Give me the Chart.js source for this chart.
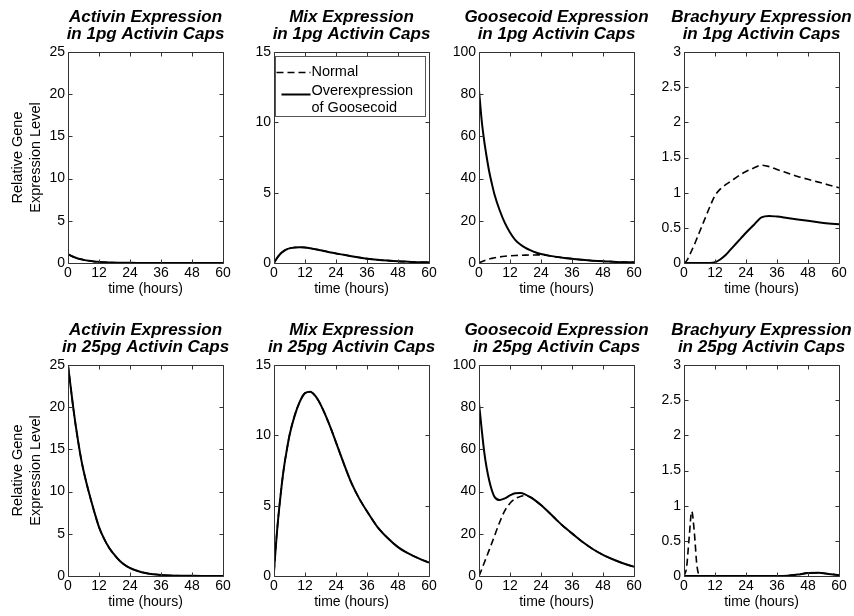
<!DOCTYPE html>
<html>
<head>
<meta charset="utf-8">
<script src="https://cdn.jsdelivr.net/npm/chart.js@4.4.0/dist/chart.umd.min.js"></script>
<style>
  html, body { margin: 0; padding: 0; background: #fff; }
  #page { position: relative; width: 854px; height: 616px; overflow: hidden; background: #fff; }
  #page canvas { position: absolute; }
</style>
</head>
<body>
<div id="page"></div>
<script>
// time points (hours) shared by every series
const hours = [0, 1, 2, 3, 4, 5, 6, 8, 10, 12, 14, 16, 18, 20, 22, 24, 27, 30, 33, 36, 40, 44, 48, 52, 56, 60];
const timeTicks = [0, 12, 24, 36, 48, 60];

const activinTicks = [0, 5, 10, 15, 20, 25];
const mixTicks = [0, 5, 10, 15];
const gscTicks = [0, 20, 40, 60, 80, 100];
const braTicks = [0, 0.5, 1, 1.5, 2, 2.5, 3];

// 1pg activin caps
const activin1Normal = [1.05, 0.88, 0.74, 0.62, 0.52, 0.44, 0.37, 0.26, 0.18, 0.13, 0.09, 0.06, 0.04, 0.03, 0.02, 0.015, 0.01, 0.005, 0, 0, 0, 0, 0, 0, 0, 0];
const activin1Over   = [1.05, 0.88, 0.74, 0.62, 0.52, 0.44, 0.37, 0.26, 0.18, 0.13, 0.09, 0.06, 0.04, 0.03, 0.02, 0.015, 0.01, 0.005, 0, 0, 0, 0, 0, 0, 0, 0];
const mix1Normal = [0, 0.3, 0.55, 0.74, 0.88, 0.98, 1.04, 1.1, 1.12, 1.1, 1.05, 0.98, 0.91, 0.83, 0.75, 0.68, 0.58, 0.48, 0.39, 0.31, 0.23, 0.17, 0.12, 0.09, 0.06, 0.05];
const mix1Over   = [0, 0.3, 0.55, 0.74, 0.88, 0.98, 1.04, 1.1, 1.12, 1.1, 1.05, 0.98, 0.91, 0.83, 0.75, 0.68, 0.58, 0.48, 0.39, 0.31, 0.23, 0.17, 0.12, 0.09, 0.06, 0.05];
const gsc1Normal = [0, 0.6, 1.1, 1.5, 1.9, 2.2, 2.5, 2.9, 3.2, 3.4, 3.55, 3.65, 3.72, 3.78, 3.82, 3.85, 3.5, 2.9, 2.4, 2.0, 1.5, 1.1, 0.8, 0.6, 0.4, 0.3];
const gsc1Over   = [82, 68, 58, 50, 43, 37.5, 32.5, 25, 19, 14.5, 11, 8.8, 7.2, 6, 5, 4.3, 3.5, 2.9, 2.4, 2.0, 1.5, 1.1, 0.8, 0.6, 0.4, 0.3];
const bra1Normal = [0, 0.03, 0.1, 0.18, 0.26, 0.35, 0.44, 0.62, 0.8, 0.96, 1.05, 1.11, 1.16, 1.21, 1.26, 1.3, 1.35, 1.39, 1.37, 1.33, 1.28, 1.23, 1.19, 1.15, 1.11, 1.07];
const bra1Over   = [0, 0, 0, 0, 0, 0, 0, 0, 0, 0.01, 0.05, 0.11, 0.19, 0.27, 0.35, 0.43, 0.54, 0.65, 0.67, 0.66, 0.64, 0.62, 0.6, 0.58, 0.56, 0.55];

// 25pg activin caps
const activin25Normal = [25, 22.5, 20, 17.8, 15.8, 14, 12.5, 10, 7.8, 5.8, 4.4, 3.3, 2.5, 1.8, 1.3, 0.95, 0.6, 0.35, 0.2, 0.12, 0.06, 0.03, 0.02, 0.01, 0, 0];
const activin25Over   = [25, 22.5, 20, 17.8, 15.8, 14, 12.5, 10, 7.8, 5.8, 4.4, 3.3, 2.5, 1.8, 1.3, 0.95, 0.6, 0.35, 0.2, 0.12, 0.06, 0.03, 0.02, 0.01, 0, 0];
const mix25Normal = [0.3, 2.8, 4.8, 6.5, 7.9, 9.0, 10, 11.4, 12.4, 13.0, 13.1, 12.8, 12.2, 11.4, 10.5, 9.5, 8.0, 6.6, 5.5, 4.6, 3.5, 2.7, 2.05, 1.6, 1.25, 0.95];
const mix25Over   = [0.3, 2.8, 4.8, 6.5, 7.9, 9.0, 10, 11.4, 12.4, 13.0, 13.1, 12.8, 12.2, 11.4, 10.5, 9.5, 8.0, 6.6, 5.5, 4.6, 3.5, 2.7, 2.05, 1.6, 1.25, 0.95];
const gsc25Normal = [0, 3, 6.2, 9.3, 12.5, 15.7, 19, 25.5, 31, 34.5, 36.6, 37.7, 38.1, 37.3, 35.6, 33.6, 30.2, 26.6, 23.2, 20.2, 16.2, 12.8, 10, 7.8, 5.9, 4.4];
const gsc25Over   = [82, 70, 59, 51, 45, 40.5, 37.5, 36, 36.8, 38.2, 39.2, 39.3, 38.6, 37.3, 35.6, 33.6, 30.2, 26.6, 23.2, 20.2, 16.2, 12.8, 10, 7.8, 5.9, 4.4];
const bra25Normal = [0, 0.12, 0.55, 0.92, 0.62, 0.15, 0.01, 0, 0, 0, 0, 0, 0, 0, 0, 0, 0, 0, 0, 0, 0.003, 0.02, 0.042, 0.046, 0.03, 0.012];
const bra25Over   = [0, 0, 0, 0, 0, 0, 0, 0, 0, 0, 0, 0, 0, 0, 0, 0, 0, 0, 0, 0, 0.003, 0.02, 0.042, 0.046, 0.03, 0.012];

const legendLabels = [['Normal'], ['Overexpression', 'of Goosecoid']];

const panels = [
  { row: 0, col: 0, title: ['Activin Expression', 'in 1pg Activin Caps'], normal: activin1Normal, over: activin1Over, yTicks: activinTicks },
  { row: 0, col: 1, title: ['Mix Expression', 'in 1pg Activin Caps'], normal: mix1Normal, over: mix1Over, yTicks: mixTicks, legend: true },
  { row: 0, col: 2, title: ['Goosecoid Expression', 'in 1pg Activin Caps'], normal: gsc1Normal, over: gsc1Over, yTicks: gscTicks },
  { row: 0, col: 3, title: ['Brachyury Expression', 'in 1pg Activin Caps'], normal: bra1Normal, over: bra1Over, yTicks: braTicks },
  { row: 1, col: 0, title: ['Activin Expression', 'in 25pg Activin Caps'], normal: activin25Normal, over: activin25Over, yTicks: activinTicks },
  { row: 1, col: 1, title: ['Mix Expression', 'in 25pg Activin Caps'], normal: mix25Normal, over: mix25Over, yTicks: mixTicks },
  { row: 1, col: 2, title: ['Goosecoid Expression', 'in 25pg Activin Caps'], normal: gsc25Normal, over: gsc25Over, yTicks: gscTicks },
  { row: 1, col: 3, title: ['Brachyury Expression', 'in 25pg Activin Caps'], normal: bra25Normal, over: bra25Over, yTicks: braTicks },
];

const FONT = '"Liberation Sans", Arial, Helvetica, sans-serif';
Chart.defaults.font.family = FONT;
Chart.defaults.color = '#000';

const plotLefts = [68, 274, 479, 684];
const plotW = 155;
const rowTops = [0, 313];
const canvasH = 303;

// box around the plot with inward tick marks, matlab style
const frame = {
  id: 'frame',
  afterDatasetsDraw(chart) {
    const { ctx, chartArea: a, scales: { x, y } } = chart;
    const l = Math.round(a.left) + 0.5, r = Math.round(a.right) + 0.5;
    const t = Math.round(a.top) + 0.5, b = Math.round(a.bottom) + 0.5;
    ctx.save();
    ctx.strokeStyle = '#333';
    ctx.lineWidth = 1;
    ctx.setLineDash([]);
    ctx.beginPath();
    ctx.rect(l, t, r - l, b - t);
    x.ticks.forEach((tk) => {
      const px = Math.round(x.getPixelForValue(tk.value)) + 0.5;
      ctx.moveTo(px, b); ctx.lineTo(px, b - 4);
      ctx.moveTo(px, t); ctx.lineTo(px, t + 4);
    });
    y.ticks.forEach((tk) => {
      const py = Math.round(y.getPixelForValue(tk.value)) + 0.5;
      ctx.moveTo(l, py); ctx.lineTo(l + 4, py);
      ctx.moveTo(r, py); ctx.lineTo(r - 4, py);
    });
    ctx.stroke();
    ctx.restore();
  },
};

const boxLegend = {
  id: 'boxLegend',
  afterDraw(chart) {
    const { ctx, chartArea: a } = chart;
    const x0 = Math.round(a.left) + 1.5, y0 = Math.round(a.top) + 4.5;
    const w = Math.round(a.width) - 5, h = 60;
    ctx.save();
    ctx.fillStyle = '#fff';
    ctx.fillRect(x0, y0, w, h);
    ctx.strokeStyle = '#555';
    ctx.lineWidth = 1;
    ctx.strokeRect(x0, y0, w, h);
    ctx.font = '14.5px ' + FONT;
    ctx.fillStyle = '#000';
    ctx.textBaseline = 'middle';
    const rows = [
      { lineY: y0 + 16, x1: x0 + 1, textY: y0 + 15 },
      { lineY: y0 + 38, x1: x0 + 6, textY: y0 + 34 },
    ];
    chart.data.datasets.forEach((ds, i) => {
      const row = rows[i];
      ctx.strokeStyle = ds.borderColor;
      ctx.lineWidth = ds.borderWidth;
      ctx.setLineDash(ds.borderDash || []);
      ctx.beginPath();
      ctx.moveTo(row.x1, row.lineY);
      ctx.lineTo(x0 + 35, row.lineY);
      ctx.stroke();
      legendLabels[i].forEach((txt, j) => {
        ctx.fillText(txt, x0 + 36, row.textY + j * 17);
      });
    });
    ctx.restore();
  },
};

const page = document.getElementById('page');

panels.forEach((p) => {
  // left axis and an empty right axis of the same width keep the plot centred in its canvas,
  // so the full-width title is centred over the plot
  const yW = p.col === 0 ? 68 : 40;
  const left = plotLefts[p.col] - yW;
  const width = yW * 2 + plotW;

  const canvas = document.createElement('canvas');
  canvas.width = width;
  canvas.height = canvasH;
  canvas.style.left = left + 'px';
  canvas.style.top = rowTops[p.row] + 'px';
  page.appendChild(canvas);

  const yMax = p.yTicks[p.yTicks.length - 1];

  new Chart(canvas, {
    type: 'line',
    data: {
      datasets: [
        {
          label: 'Normal',
          data: hours.map((h, i) => ({ x: h, y: p.normal[i] })),
          borderColor: '#000',
          borderWidth: 1.6,
          borderDash: [7, 4],
          pointRadius: 0,
          fill: false,
          cubicInterpolationMode: 'monotone',
          yAxisID: 'y',
          order: 2,
        },
        {
          label: 'Overexpression of Goosecoid',
          data: hours.map((h, i) => ({ x: h, y: p.over[i] })),
          borderColor: '#000',
          borderWidth: 2,
          pointRadius: 0,
          fill: false,
          cubicInterpolationMode: 'monotone',
          yAxisID: 'y',
          order: 1,
        },
      ],
    },
    options: {
      responsive: false,
      animation: false,
      events: [],
      layout: { padding: 0 },
      plugins: {
        legend: { display: false },
        tooltip: { enabled: false },
        title: {
          display: true,
          text: p.title,
          color: '#000',
          font: { size: 17, weight: 'bold', style: 'italic', lineHeight: '17px' },
          padding: { top: 8.5, bottom: 9.5 },
        },
      },
      scales: {
        x: {
          type: 'linear',
          min: 0,
          max: 60,
          afterBuildTicks: (s) => { s.ticks = timeTicks.map((v) => ({ value: v })); },
          afterFit: (s) => { s.height = 40; },
          grid: { display: false, drawTicks: false },
          border: { display: false },
          ticks: { color: '#000', font: { size: 14 }, padding: 2, maxRotation: 0, autoSkip: false },
          title: {
            display: true,
            text: 'time (hours)',
            color: '#000',
            font: { size: 14, lineHeight: '18px' },
            padding: { top: 0, bottom: 5 },
          },
        },
        y: {
          position: 'left',
          min: 0,
          max: yMax,
          afterBuildTicks: (s) => { s.ticks = p.yTicks.map((v) => ({ value: v })); },
          afterFit: (s) => { s.width = yW; },
          grid: { display: false, drawTicks: false },
          border: { display: false },
          ticks: { color: '#000', font: { size: 14 }, padding: 3, callback: (v) => String(v) },
          title: {
            display: p.col === 0,
            text: ['Relative Gene', 'Expression Level'],
            color: '#000',
            font: { size: 14.5, lineHeight: '18px' },
            padding: { top: 9, bottom: 0 },
          },
        },
        yRight: {
          position: 'right',
          min: 0,
          max: yMax,
          afterFit: (s) => { s.width = yW; },
          grid: { display: false, drawTicks: false },
          border: { display: false },
          ticks: { display: false },
        },
      },
    },
    plugins: p.legend ? [frame, boxLegend] : [frame],
  });
});
</script>
</body>
</html>
